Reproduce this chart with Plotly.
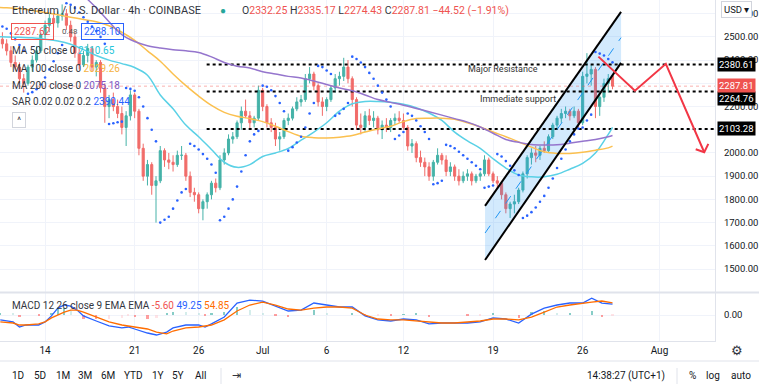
import plotly.graph_objects as go
import pandas as pd

# ---------------- DATA ----------------
candle_times = pd.date_range("2021-06-10 16:00", periods=144, freq="8h")

opens = [2490,
 2470,2440,2390, 2370,2320,2300, 2370,2400,2440, 2510,2550,2580, 2560,2590,2600,
 2550,2500,2430, 2380,2420,2450, 2370,2390,2280, 2200,2230,2200, 2170,2110,2160,
 2250,2180,2020, 1900,1950,1860, 1880,2010,1970, 1960,1950,1990, 1990,1900,1830,
 1820,1760,1790, 1820,1870,1850, 1970,2000,2060, 2070,2130,2180, 2160,2130,2150,
 2270,2200,2130, 2110,2060,2070, 2140,2150,2190, 2220,2230,2320, 2340,2290,2220,
 2200,2230,2280, 2320,2330,2370, 2320,2230,2120, 2110,2160,2140, 2150,2100,2120,
 2110,2140,2150, 2140,2110,2030, 2040,1980,1960, 1940,1900,1960, 1990,1970,1920,
 1940,1900,1880, 1900,1910,1880, 1900,1910,1970, 1910,1880,1870, 1820,1760,1780,
 1790,1840,1910, 1980,2000,1990, 2020,2010,2070, 2120,2150,2170, 2180,2160,2180,
 2130,2330,2340, 2360,2200,2240, 2300,2332.25]
highs = [2520,
 2490,2460,2420, 2390,2340,2380, 2420,2460,2520, 2570,2600,2600, 2610,2640,2620,
 2570,2520,2450, 2440,2470,2460, 2400,2400,2300, 2250,2260,2230, 2200,2180,2270,
 2260,2190,2040, 1970,1960,1900, 2030,2020,2000, 1990,2010,2030, 2000,1920,1850,
 1830,1800,1830, 1880,1890,1990, 2020,2080,2090, 2140,2200,2230, 2180,2160,2290,
 2280,2210,2150, 2130,2090,2150, 2170,2200,2240, 2250,2340,2370, 2350,2300,2240,
 2240,2290,2340, 2350,2410,2400, 2330,2240,2170, 2180,2190,2180, 2160,2140,2150,
 2150,2170,2180, 2170,2120,2060, 2050,2010,1980, 1960,1970,2020, 2000,1990,1960,
 1950,1930,1920, 1930,1920,1910, 1920,1990,1980, 1920,1900,1880, 1830,1790,1820,
 1850,1920,1990, 2020,2030,2030, 2050,2080,2130, 2160,2190,2200, 2190,2200,2190,
 2350,2430,2380, 2370,2260,2320, 2340,2335.17]
lows = [2450,
 2420,2370,2360, 2300,2260,2290, 2350,2390,2430, 2490,2520,2540, 2540,2570,2530,
 2480,2410,2360, 2370,2390,2350, 2330,2260,2130, 2150,2180,2150, 2080,2030,2140,
 2150,1990,1880, 1860,1820,1700, 1870,1940,1930, 1920,1940,1970, 1880,1810,1790,
 1740,1710,1760, 1800,1830,1840, 1950,1990,2040, 2060,2100,2150, 2100,2110,2140,
 2180,2110,2090, 2030,2010,2060, 2120,2140,2180, 2200,2220,2300, 2270,2200,2160,
 2180,2220,2260, 2290,2310,2300, 2200,2100,2080, 2090,2120,2110, 2080,2060,2090,
 2090,2120,2130, 2100,2010,2000, 1960,1940,1900, 1880,1880,1950, 1950,1900,1900,
 1880,1860,1870, 1880,1860,1870, 1880,1900,1900, 1870,1850,1800, 1740,1720,1740,
 1780,1830,1890, 1950,1960,1970, 2000,2000,2060, 2100,2130,2150, 2140,2150,2110,
 2120,2300,2290, 2150,2160,2220, 2260,2274.43]
closes = [2470,
 2440,2390,2370, 2320,2300,2370, 2400,2440,2510, 2550,2580,2560, 2590,2600,2550,
 2500,2430,2380, 2420,2450,2370, 2390,2280,2200, 2230,2200,2170, 2110,2160,2250,
 2180,2020,1900, 1950,1860,1880, 2010,1970,1960, 1950,1990,1990, 1900,1830,1820,
 1760,1790,1820, 1870,1850,1970, 2000,2060,2070, 2130,2180,2160, 2130,2150,2270,
 2200,2130,2110, 2060,2070,2140, 2150,2190,2220, 2230,2320,2340, 2290,2220,2200,
 2230,2280,2320, 2330,2370,2320, 2230,2120,2110, 2160,2140,2150, 2100,2120,2110,
 2140,2150,2140, 2110,2030,2040, 1980,1960,1940, 1900,1960,1990, 1970,1920,1940,
 1900,1880,1900, 1910,1880,1900, 1910,1970,1910, 1880,1870,1820, 1760,1780,1790,
 1840,1910,1980, 2000,1990,2020, 2010,2070,2120, 2150,2170,2180, 2160,2180,2130,
 2330,2340,2360, 2200,2240,2300, 2320,2287.81]

sar_values = [2545,
 2535,2515,2490, 2465,2440,2255, 2262,2275,2295, 2325,2360,2395, 2430,2465,2645,
 2638,2625,2605, 2585,2565,2545, 2525,2500,2470, 2125,2128,2132, 2135,2280,2276,
 2268,2240,2200, 2150,2100,2050, 1700,1712,1725, 1760,1795,1830, 1845,2040,2030,
 2015,1995,1975, 1950,1915,1710, 1725,1760,1800, 1855,1920,1990, 2050,2080,2095,
 2290,2285,2270, 2245,2215,2180, 2010,2025,2045, 2070,2110,2170, 2215,2375,2370,
 2355,2340,2160, 2170,2190,2215, 2415,2405,2390, 2370,2345,2320, 2290,2260,2230,
 2200,2060,2075, 2090,2170,2160, 2140,2115,2090, 2060,1865,1870, 1880,2035,2030,
 2020,2005,1990, 1975,1960,1945, 1930,1850,1855, 1860,1995,1985, 1965,1945,1925,
 1905,1720,1730, 1745,1765,1790, 1815,1850,1890, 1935,1975,2015, 2050,2080,2105,
 2110,2140,2165, 2435,2428,2420, 2405,2390.44]

ma_dates = list(pd.date_range("2021-06-10", "2021-07-28", freq="D")) + [pd.Timestamp("2021-07-28 08:00")]
ma50 = [2500,2500,2498,2496,2490,2482,2468,2445,2420,2400,2385,2368,2335,2250,2190,2120,2070,2015,1960,1938,1950,
        1985,2000,2020,2055,2090,2130,2180,2212,2222,2222,2218,2210,2195,2172,2140,2090,2052,2020,1975,1935,1905,
        1897,1897,1908,1930,1955,2000,2080,2110.65]
ma100 = [2628,2626,2622,2614,2605,2595,2585,2575,2565,2548,2520,2485,2440,2395,2340,2290,2245,2205,2175,2158,2148,
         2135,2115,2092,2072,2066,2065,2068,2075,2090,2103,2115,2135,2148,2150,2150,2145,2130,2112,2090,2070,2048,
         2025,2005,1998,1998,2003,2012,2022,2029.26]
ma200_dates = list(pd.date_range("2021-06-16", "2021-07-28", freq="D")) + [pd.Timestamp("2021-07-28 08:00")]
ma200 = [2740,2680,2625,2565,2510,2480,2462,2452,2445,2440,2433,2414,2390,2374,2366,
         2350,2340,2330,2323,2310,2295,2280,2268,2250,2230,2218,2206,2192,2178,2163,2148,2133,2112,2085,2058,2046,
         2036,2034,2035,2042,2050,2058,2070,2075.18]

macd_dates = ["2021-06-10 12:00","2021-06-11 12:00","2021-06-12 00:00","2021-06-12 12:00","2021-06-13 12:00",
              "2021-06-14 00:00","2021-06-14 12:00","2021-06-15 00:00","2021-06-15 12:00","2021-06-16 00:00",
              "2021-06-16 12:00","2021-06-17 00:00","2021-06-18 00:00","2021-06-19 00:00","2021-06-20 00:00",
              "2021-06-20 12:00","2021-06-21 00:00","2021-06-22 00:00","2021-06-22 17:00","2021-06-23 12:00",
              "2021-06-24 00:00","2021-06-25 00:00","2021-06-26 00:00","2021-06-26 12:00","2021-06-27 00:00",
              "2021-06-28 00:00","2021-06-29 00:00","2021-06-30 00:00"] + \
             [f"2021-07-{d:02d} 00:00" for d in range(1, 27)] + \
             ["2021-07-26 17:00","2021-07-27 12:00","2021-07-28 08:00"]
macd_line = [-22,-31,-54,-45,-45,-31,-4,31,45,40,22,-4,-27,-49,-58,-54,-63,-81,-90,-77,-58,-45,-45,-54,-40,-9,54,67,
             63,40,18,22,54,45,36,36,-4,-22,-27,-18,-22,-40,-36,-36,-36,-31,-13,-18,-36,4,31,45,54,54,
             76,54,49.25]
signal_line = [-31,-36,-45,-45,-40,-31,-13,0,13,22,22,13,-9,-31,-45,-49,-54,-63,-77,-85,-72,-58,-54,-49,-45,-22,18,45,
               58,45,27,22,31,36,36,31,0,-18,-22,-22,-27,-31,-36,-36,-31,-27,-18,-18,-22,-9,13,36,45,54,
               58,63,54.85]

levels = [2380.61, 2264.76, 2103.28]
level_start = "2021-06-26 15:00"
last_price = 2287.81
channel_t = ["2021-07-18 09:00", "2021-07-29 00:00"]
channel_upper = [1772, 2608]
channel_lower = [1539, 2388]
channel_mid = [1655, 2497]
forecast_t = ["2021-07-27 05:30", "2021-07-30 02:00", "2021-08-01 12:00", "2021-08-04 12:00"]
forecast_p = [2415, 2268, 2384, 2003]
arrow_t = ["2021-08-03 20:00", "2021-08-04 12:00", "2021-08-04 19:40"]
arrow_p = [2016, 2003, 2039]

x_ticks = ["2021-06-14", "2021-06-21", "2021-06-26", "2021-07-01", "2021-07-06",
           "2021-07-12", "2021-07-19", "2021-07-26", "2021-08-01"]
x_ticktext = ["14", "21", "26", "Jul", "6", "12", "19", "26", "Aug"]
price_ticks = [1500, 1600, 1700, 1800, 1900, 2000, 2100, 2200, 2300, 2400, 2500, 2600]
hidden_price_ticks = [2100, 2300]   # fully covered by the level labels in the reference

# ---------------- FIGURE ----------------
W, H = 759, 388
PW, PH = 715, 341          # plot area in px
def px(xp): return xp / PW
def py(yp): return 1 - yp / PH

x_range = ["2021-06-10 11:30", "2021-08-05 08:10"]
FONT = "Roboto, Arial, sans-serif"
TXT = "#131722"

fig = go.Figure()

# channel fill
fig.add_trace(go.Scatter(
    x=[channel_t[0], channel_t[0], channel_t[1], channel_t[1], channel_t[0]],
    y=[channel_lower[0], channel_upper[0], channel_upper[1], channel_lower[1], channel_lower[0]],
    fill="toself", fillcolor="rgba(33,150,243,0.20)", mode="lines", line=dict(width=0),
    hoverinfo="skip", yaxis="y"))

# current price dotted line
fig.add_trace(go.Scatter(x=x_range, y=[last_price, last_price], mode="lines",
                         line=dict(color="rgba(239,83,80,0.45)", width=1, dash="dot"), yaxis="y"))

# horizontal levels
for lv in levels:
    fig.add_trace(go.Scatter(x=[level_start, x_range[1]], y=[lv, lv], mode="lines",
                             line=dict(color="#000000", width=2, dash="dot"), yaxis="y"))

# moving averages
fig.add_trace(go.Scatter(x=ma_dates, y=ma50, mode="lines", line=dict(color="#5ad1e6", width=1.5, shape="spline"), yaxis="y"))
fig.add_trace(go.Scatter(x=ma_dates, y=ma100, mode="lines", line=dict(color="#fbc04f", width=1.5, shape="spline"), yaxis="y"))
fig.add_trace(go.Scatter(x=ma200_dates, y=ma200, mode="lines", line=dict(color="#9575cd", width=1.5, shape="spline"), yaxis="y"))

# candles
fig.add_trace(go.Candlestick(
    x=candle_times, open=opens, high=highs, low=lows, close=closes,
    increasing=dict(line=dict(color="#26a69a", width=1), fillcolor="#26a69a"),
    decreasing=dict(line=dict(color="#ef5350", width=1), fillcolor="#ef5350"),
    opacity=0.85, yaxis="y", xaxis="x"))

# parabolic SAR
fig.add_trace(go.Scatter(x=candle_times, y=sar_values, mode="markers",
                         marker=dict(color="#2962ff", size=2.6), yaxis="y"))

# channel lines
fig.add_trace(go.Scatter(x=channel_t, y=channel_upper, mode="lines", line=dict(color="#000000", width=2), yaxis="y"))
fig.add_trace(go.Scatter(x=channel_t, y=channel_lower, mode="lines", line=dict(color="#000000", width=2), yaxis="y"))
fig.add_trace(go.Scatter(x=channel_t, y=channel_mid, mode="lines", line=dict(color="#2196f3", width=1, dash="dash"), yaxis="y"))

# forecast zigzag + arrow head
fig.add_trace(go.Scatter(x=forecast_t, y=forecast_p, mode="lines", line=dict(color="#f23645", width=2), yaxis="y"))
fig.add_trace(go.Scatter(x=arrow_t, y=arrow_p, mode="lines", line=dict(color="#f23645", width=2), yaxis="y"))

# MACD pane
hist = [m - s for m, s in zip(macd_line, signal_line)]
hist_colors = []
for i, h in enumerate(hist):
    prev = hist[i - 1] if i > 0 else h
    if h >= 0:
        hist_colors.append("#26a69a" if h >= prev else "#b2dfdb")
    else:
        hist_colors.append("#ff5252" if h < prev else "#ffcdd2")
fig.add_trace(go.Bar(x=pd.to_datetime(macd_dates), y=hist, marker=dict(color=hist_colors, line=dict(width=0)),
                     width=4 * 3600 * 1000, opacity=0.55, yaxis="y2"))
fig.add_trace(go.Scatter(x=pd.to_datetime(macd_dates), y=macd_line, mode="lines",
                         line=dict(color="#2962ff", width=1.3), yaxis="y2"))
fig.add_trace(go.Scatter(x=pd.to_datetime(macd_dates), y=signal_line, mode="lines",
                         line=dict(color="#ff6d00", width=1.3), yaxis="y2"))

main_bottom = 1 - 292 / PH

fig.update_layout(
    width=W, height=H, margin=dict(l=0, r=W - PW, t=0, b=H - PH),
    paper_bgcolor="white", plot_bgcolor="white", showlegend=False,
    font=dict(family=FONT, size=10, color=TXT),
    bargap=0,
    xaxis=dict(type="date", range=x_range, anchor="y2", domain=[0, 1],
               tickvals=x_ticks, ticktext=x_ticktext, showgrid=True, gridcolor="#f0f3fa",
               showline=True, linecolor="#e0e3eb", ticks="", zeroline=False,
               rangeslider=dict(visible=False), tickfont=dict(size=10, color=TXT)),
    yaxis=dict(domain=[main_bottom, 1], range=[1401, 2659], side="right",
               tickvals=price_ticks,
               ticktext=["" if v in hidden_price_ticks else f"{v:.2f}" for v in price_ticks],
               showgrid=True, gridcolor="#f0f3fa", zeroline=False, showline=True,
               linecolor="#e0e3eb", ticks="", ticklabelstandoff=6, tickfont=dict(size=9.5, color=TXT)),
    yaxis2=dict(domain=[0, main_bottom - 0.003], range=[-117, 99], side="right",
                tickvals=[0], ticktext=["0.00"], showgrid=True, gridcolor="#f0f3fa",
                zeroline=False, showline=True, linecolor="#e0e3eb", ticks="",
                ticklabelstandoff=6, tickfont=dict(size=9.5, color=TXT)),
)

shapes = [
    dict(type="line", xref="paper", yref="paper", x0=0, x1=W / PW, y0=main_bottom - 0.0015, y1=main_bottom - 0.0015,
         line=dict(color="#e0e3eb", width=2)),
    dict(type="line", xref="paper", yref="paper", x0=0, x1=W / PW, y0=py(361), y1=py(361),
         line=dict(color="#e0e3eb", width=1)),
    dict(type="line", xref="paper", yref="paper", x0=px(221), x1=px(221), y0=py(368), y1=py(384),
         line=dict(color="#e0e3eb", width=1)),
    dict(type="line", xref="paper", yref="paper", x0=px(677), x1=px(677), y0=py(368), y1=py(384),
         line=dict(color="#e0e3eb", width=1)),
]
fig.update_layout(shapes=shapes)

ann = []
def text(xp, yp, s, size=10, color=TXT, anchor="left", **kw):
    ann.append(dict(xref="paper", yref="paper", x=px(xp), y=py(yp), text=s, showarrow=False,
                    xanchor=anchor, yanchor="middle", font=dict(size=size, color=color, family=FONT), **kw))

# legend block
text(10, 11, "Ethereum / U.S. Dollar · 4h · COINBASE", size=11, color="#333640")
text(223, 11, "●", size=10, color="#26a69a", anchor="center")
red = "#ef5350"
ohlc = (f'O<span style="color:{red}">2332.25</span> H<span style="color:{red}">2335.17</span> '
        f'L<span style="color:{red}">2274.43</span> C<span style="color:{red}">2287.81</span> '
        f'<span style="color:{red}">−44.52 (−1.91%)</span>')
text(240, 11, ohlc, size=10.5, color="#333640")
text(11, 31, "2287.62", size=10, color=red, bordercolor=red, borderwidth=1, borderpad=2)
text(60, 31, "0.48", size=8, color="#555")
text(81, 31, "2288.10", size=10, color="#2962ff", bordercolor="#2962ff", borderwidth=1, borderpad=2)
text(10, 51, 'MA 50 close 0 <span style="color:#26c6da">2110.65</span>', size=10, color="#333640")
text(10, 68, 'MA 100 close 0 <span style="color:#f5b342">2029.26</span>', size=10, color="#333640")
text(10, 85, 'MA 200 close 0 <span style="color:#7e57c2">2075.18</span>', size=10, color="#333640")
text(10, 102, 'SAR 0.02 0.02 0.2 <span style="color:#2962ff">2390.44</span>', size=10, color="#333640")
text(12, 120, " ^ ", size=9, color="#333640", bordercolor="#d1d4dc", borderwidth=1, borderpad=2, bgcolor="white")

# drawing labels
ann.append(dict(xref="x", yref="y", x="2021-07-19 19:00", y=2362, text="Major Resistance", showarrow=False,
                font=dict(size=9, color="#333"), xanchor="center", yanchor="middle"))
ann.append(dict(xref="x", yref="y", x="2021-07-20 23:00", y=2233, text="Immediate support", showarrow=False,
                font=dict(size=9, color="#333"), xanchor="center", yanchor="middle"))

# price axis labels
def plabel(val, bg, shift=0):
    ann.append(dict(xref="paper", yref="y", x=1, y=val, xanchor="left", yanchor="middle", xshift=2, yshift=shift,
                    text=f"{val:.2f}", showarrow=False, bgcolor=bg, borderpad=1,
                    font=dict(size=9.5, color="white", family=FONT)))
plabel(2380.61, "#000000")
plabel(2103.28, "#000000")
plabel(2264.76, "#000000", shift=-7)
plabel(2287.81, "#ef5350", shift=1)

# USD button
text(737, 10, "USD ▾", size=9.5, anchor="center", bgcolor="white", bordercolor="#d1d4dc", borderwidth=1, borderpad=2)

# MACD legend
text(10, 305, f'MACD 12 26 close 9 EMA EMA <span style="color:{red}">-5.60</span> '
              f'<span style="color:#2962ff">49.25</span> <span style="color:#ff6d00">54.85</span>',
     size=10, color="#333640")

# gear + toolbar
text(737, 350, "⚙", size=13, anchor="center", color="#333640")
for lbl, xp in [("1D", 18), ("5D", 40), ("1M", 63), ("3M", 85), ("6M", 108), ("YTD", 133),
                ("1Y", 158), ("5Y", 178), ("All", 200)]:
    text(xp, 376, lbl, size=10, anchor="center")
text(236, 376, "⇥", size=11, anchor="center", color="#333640")
text(626, 376, "14:38:27 (UTC+1)", size=10, anchor="center")
text(692, 376, "%", size=10, anchor="center")
text(713, 376, "log", size=10, anchor="center")
text(741, 376, "auto", size=10, anchor="center")

fig.update_layout(annotations=ann)
fig.write_html("out.html", config={"displayModeBar": False},
               post_script="document.body.style.margin='0';document.body.style.overflow='hidden';")
